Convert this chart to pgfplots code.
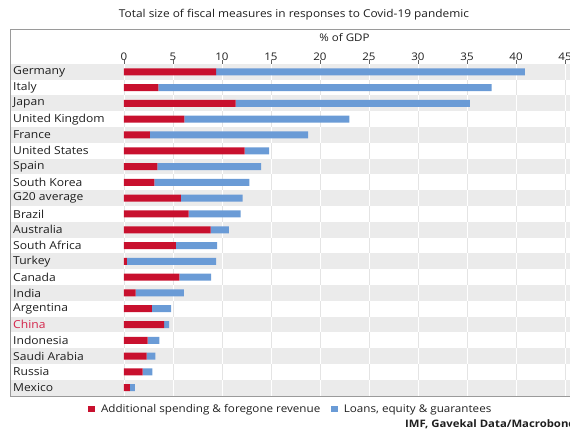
\documentclass[border=0pt]{standalone}
\usepackage{pgfplots}
\usepackage{pgfplotstable}
\pgfplotsset{compat=1.18}
\usepackage{fontspec}
\setmainfont{Open Sans}[FakeStretch=1.1]

\definecolor{spend}{HTML}{C8102E}
\definecolor{loans}{HTML}{6A9BD6}
\definecolor{band}{HTML}{EBEBEB}
\definecolor{gridl}{HTML}{E4E4E4}
\definecolor{framec}{HTML}{9A9A9A}
\definecolor{txt}{HTML}{1E1E1E}
\definecolor{chinared}{HTML}{D4244A}

% Fiscal measures, % of GDP (row 0 = top)
\pgfplotstableread{
idx spend loans
0   9.4   31.5
1   3.5   34.0
2   11.4  23.9
3   6.15  16.85
4   2.65  16.15
5   12.3  2.5
6   3.4   10.6
7   3.1   9.7
8   5.8   6.3
9   6.6   5.3
10  8.85  1.85
11  5.3   4.2
12  0.3   9.1
13  5.65  3.25
14  1.2   4.9
15  2.85  1.95
16  4.1   0.5
17  2.4   1.2
18  2.3   0.9
19  1.9   1.0
20  0.6   0.5
}\fiscal

\pgfplotsset{
  panel/.style={
    at={(10bp,368.1bp)}, anchor=north west,
    scale only axis, width=565bp, height=331.7bp,
    xmin=-11.63, xmax=46.02, ymin=-0.5, ymax=20.5,
    y dir=reverse, clip=false,
  },
}

\begin{document}
\begin{tikzpicture}
\useasboundingbox (0bp,0bp) rectangle (570bp,432bp);
\clip (0bp,0bp) rectangle (570bp,432bp);

% outer frame
\draw[framec, line width=0.8bp] (10bp,402.3bp) rectangle (590bp,36bp);

\node[txt, font=\fontsize{10.8bp}{12bp}\selectfont] at (294bp,417bp) {Total size of fiscal measures in responses to Covid-19 pandemic};
\node[txt, font=\fontsize{10.5bp}{12bp}\selectfont] at (344.5bp,394bp) {\% of GDP};
\node[txt, anchor=west, inner sep=0pt, font=\fontsize{10.3bp}{12bp}\selectfont\bfseries] at (405bp,8bp) {IMF, Gavekal Data/Macrobond};

% background: grid and alternating row bands
\begin{axis}[
  panel,
  axis line style={draw=none},
  xtick={0,5,...,45}, ytick=\empty,
  xticklabels={}, major tick length=0pt,
  xmajorgrids, grid style={gridl, line width=0.8bp},
]
\pgfplotsinvokeforeach{0,2,...,20}{
  \fill[band] ([yshift=-7.9bp]axis cs:-11.55,#1) rectangle ([yshift=7.9bp]axis cs:46.02,#1);
  \draw[white, line width=0.8bp]
    ([yshift=-7.9bp]axis cs:0,#1) -- ([yshift=7.9bp]axis cs:0,#1)
    ([yshift=-7.9bp]axis cs:5,#1) -- ([yshift=7.9bp]axis cs:5,#1)
    ([yshift=-7.9bp]axis cs:10,#1) -- ([yshift=7.9bp]axis cs:10,#1)
    ([yshift=-7.9bp]axis cs:15,#1) -- ([yshift=7.9bp]axis cs:15,#1)
    ([yshift=-7.9bp]axis cs:20,#1) -- ([yshift=7.9bp]axis cs:20,#1)
    ([yshift=-7.9bp]axis cs:25,#1) -- ([yshift=7.9bp]axis cs:25,#1)
    ([yshift=-7.9bp]axis cs:30,#1) -- ([yshift=7.9bp]axis cs:30,#1)
    ([yshift=-7.9bp]axis cs:35,#1) -- ([yshift=7.9bp]axis cs:35,#1)
    ([yshift=-7.9bp]axis cs:40,#1) -- ([yshift=7.9bp]axis cs:40,#1)
    ([yshift=-7.9bp]axis cs:45,#1) -- ([yshift=7.9bp]axis cs:45,#1);
}
\end{axis}

% bars, ticks, labels, legend
\begin{axis}[
  panel,
  xbar stacked, bar width=7bp,
  axis line style={draw=none},
  xtick={0,5,...,45}, xtick pos=upper, xticklabel pos=upper,
  tick align=outside, major tick length=3.5bp,
  xtick style={txt!70, line width=0.8bp},
  ytick={0,...,20}, ytick style={draw=none},
  yticklabels={Germany,Italy,Japan,United Kingdom,France,United States,Spain,South Korea,G20 average,Brazil,Australia,South Africa,Turkey,Canada,India,Argentina,\textcolor{chinared}{China},Indonesia,Saudi Arabia,Russia,Mexico},
  yticklabel style={anchor=west, inner sep=0pt, xshift=6.5bp, font=\fontsize{11bp}{13bp}\selectfont, text=txt},
  xticklabel style={yshift=-4bp, font=\fontsize{10.5bp}{12bp}\selectfont, text=txt},
  /pgf/number format/assume math mode=true,
  legend style={draw=none, fill=none, at={(axis description cs:0.1385,-0.04)}, anchor=west,
    legend columns=2, inner sep=0pt, font=\fontsize{10.6bp}{12bp}\selectfont, text=txt,
    /tikz/every odd column/.append style={column sep=4bp},
    /tikz/every even column/.append style={column sep=9bp}},
]
\addplot[fill=spend, draw=none,
  legend image code/.code={\fill[spend] (0bp,-3.3bp) rectangle (6.6bp,3.3bp);}]
  table[x=spend, y=idx] {\fiscal};
\addlegendentry{Additional spending \& foregone revenue}
\addplot[fill=loans, draw=none,
  legend image code/.code={\fill[loans] (0bp,-3.3bp) rectangle (6.6bp,3.3bp);}]
  table[x=loans, y=idx] {\fiscal};
\addlegendentry{Loans, equity \& guarantees}
\end{axis}
\end{tikzpicture}
\end{document}
